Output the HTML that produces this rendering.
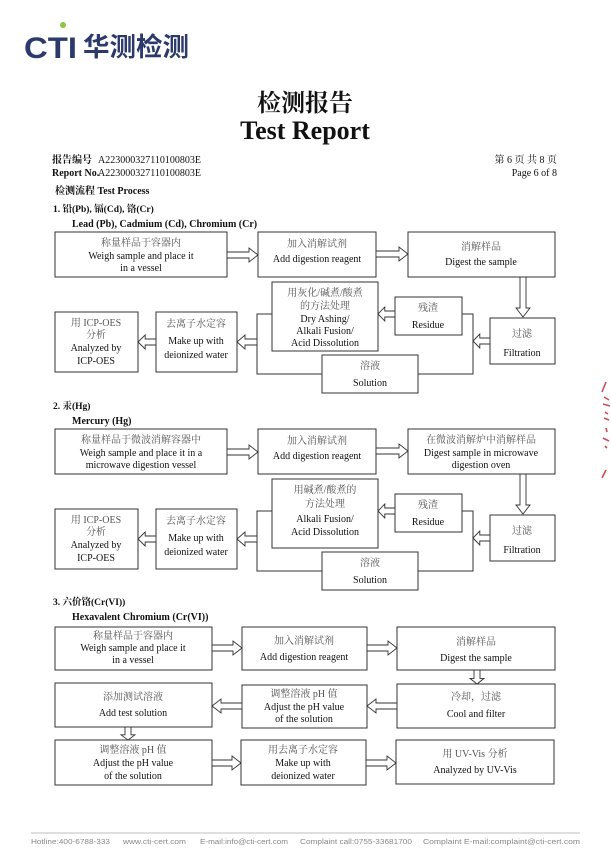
<!DOCTYPE html>
<html><head><meta charset="utf-8"><style>
html,body{margin:0;padding:0;background:#fff;}
svg{display:block;}
.s{font-family:"Liberation Serif","Noto Serif CJK SC",serif;fill:#111;}
.c{font-family:"Liberation Serif","Noto Serif CJK SC",serif;fill:#555;font-size:10px;}
.e{font-family:"Liberation Serif",serif;fill:#111;font-size:10px;}
.b{fill:#fff;stroke:#333;stroke-width:1;}
.a{fill:#fff;stroke:#333;stroke-width:0.9;}
.l{fill:none;stroke:#333;stroke-width:1;}
.f{font-family:"Liberation Sans",sans-serif;font-size:7.6px;fill:#888;}
</style></head><body>
<svg id="pg" width="611" height="864" viewBox="0 0 611 864" xmlns="http://www.w3.org/2000/svg">
<!-- logo -->
<text x="24" y="58" font-family="Liberation Sans,sans-serif" font-weight="bold" font-size="30" fill="#2b3a6b" textLength="53" lengthAdjust="spacingAndGlyphs">CTI</text>
<circle cx="63" cy="25" r="3" fill="#8cc63f"/>
<text x="83" y="56" font-family="Noto Sans CJK SC,sans-serif" font-weight="bold" font-size="26" fill="#2b3a6b" textLength="106" lengthAdjust="spacingAndGlyphs">华测检测</text>
<!-- title -->
<text x="305" y="111" text-anchor="middle" font-family="Noto Serif CJK SC,serif" font-weight="bold" font-size="24" fill="#111">检测报告</text>
<text x="305" y="139" text-anchor="middle" class="s" font-weight="bold" font-size="26">Test Report</text>
<text x="52" y="163" class="s" font-weight="bold" font-size="10">报告编号</text>
<text x="98" y="163" class="s" font-size="10">A223000327110100803E</text>
<text x="52" y="176" class="s" font-weight="bold" font-size="10">Report No.</text>
<text x="98" y="176" class="s" font-size="10">A223000327110100803E</text>
<text x="557" y="163" text-anchor="end" class="s" font-size="10" fill="#444">第 6 页  共 8 页</text>
<text x="557" y="176" text-anchor="end" class="s" font-size="10">Page 6 of 8</text>
<text x="55" y="194" class="s" font-weight="bold" font-size="10">检测流程 Test Process</text>
<text x="53" y="212" class="s" font-weight="bold" font-size="9.5">1.   铅(Pb), 镉(Cd), 铬(Cr)</text>
<text x="72" y="227" class="s" font-weight="bold" font-size="10">Lead (Pb), Cadmium (Cd), Chromium (Cr)</text>
<text x="53" y="409" class="s" font-weight="bold" font-size="9.5">2.   汞(Hg)</text>
<text x="72" y="424" class="s" font-weight="bold" font-size="10">Mercury (Hg)</text>
<text x="53" y="605" class="s" font-weight="bold" font-size="9.5">3.   六价铬(Cr(VI))</text>
<text x="72" y="620" class="s" font-weight="bold" font-size="10">Hexavalent Chromium (Cr(VI))</text>

<!-- Section 1 -->
<g>
<rect class="b" x="55" y="232" width="172" height="45"/>
<text x="141" y="246" text-anchor="middle" class="c">称量样品于容器内</text>
<text x="141" y="259" text-anchor="middle" class="e">Weigh sample and place it</text>
<text x="141" y="271" text-anchor="middle" class="e">in a vessel</text>
<rect class="b" x="258" y="232" width="118" height="45"/>
<text x="317" y="247" text-anchor="middle" class="c">加入消解试剂</text>
<text x="317" y="262" text-anchor="middle" class="e">Add digestion reagent</text>
<rect class="b" x="408" y="232" width="147" height="45"/>
<text x="481" y="250" text-anchor="middle" class="c">消解样品</text>
<text x="481" y="265" text-anchor="middle" class="e">Digest the sample</text>
<rect class="b" x="490" y="318" width="65" height="46"/>
<text x="522" y="337" text-anchor="middle" class="c">过滤</text>
<text x="522" y="356" text-anchor="middle" class="e">Filtration</text>
<rect class="b" x="395" y="297" width="67" height="38"/>
<text x="428" y="311" text-anchor="middle" class="c">残渣</text>
<text x="428" y="328" text-anchor="middle" class="e">Residue</text>
<rect class="b" x="272" y="282" width="106" height="69"/>
<text x="325" y="296" text-anchor="middle" class="c">用灰化/碱煮/酸煮</text>
<text x="325" y="309" text-anchor="middle" class="c">的方法处理</text>
<text x="325" y="322" text-anchor="middle" class="e">Dry Ashing/</text>
<text x="325" y="334" text-anchor="middle" class="e">Alkali Fusion/</text>
<text x="325" y="346" text-anchor="middle" class="e">Acid Dissolution</text>
<rect class="b" x="322" y="355" width="96" height="38"/>
<text x="370" y="369" text-anchor="middle" class="c">溶液</text>
<text x="370" y="386" text-anchor="middle" class="e">Solution</text>
<rect class="b" x="156" y="312" width="81" height="60"/>
<text x="196" y="327" text-anchor="middle" class="c">去离子水定容</text>
<text x="196" y="344" text-anchor="middle" class="e">Make up with</text>
<text x="196" y="358" text-anchor="middle" class="e">deionized water</text>
<rect class="b" x="55" y="312" width="83" height="60"/>
<text x="96" y="326" text-anchor="middle" class="c">用 ICP-OES</text>
<text x="96" y="338" text-anchor="middle" class="c">分析</text>
<text x="96" y="351" text-anchor="middle" class="e">Analyzed by</text>
<text x="96" y="364" text-anchor="middle" class="e">ICP-OES</text>
<polyline class="l" points="462,314 473,314 473,374 418,374"/>
<polyline class="l" points="322,374 257,374 257,314 272,314"/>
</g>

<!-- Section 2 -->
<g>
<rect class="b" x="55" y="429" width="172" height="45"/>
<text x="141" y="443" text-anchor="middle" class="c">称量样品于微波消解容器中</text>
<text x="141" y="456" text-anchor="middle" class="e">Weigh sample and place it in a</text>
<text x="141" y="468" text-anchor="middle" class="e">microwave digestion vessel</text>
<rect class="b" x="258" y="429" width="118" height="45"/>
<text x="317" y="444" text-anchor="middle" class="c">加入消解试剂</text>
<text x="317" y="459" text-anchor="middle" class="e">Add digestion reagent</text>
<rect class="b" x="408" y="429" width="147" height="45"/>
<text x="481" y="443" text-anchor="middle" class="c">在微波消解炉中消解样品</text>
<text x="481" y="456" text-anchor="middle" class="e">Digest sample in microwave</text>
<text x="481" y="468" text-anchor="middle" class="e">digestion oven</text>
<rect class="b" x="490" y="515" width="65" height="46"/>
<text x="522" y="534" text-anchor="middle" class="c">过滤</text>
<text x="522" y="553" text-anchor="middle" class="e">Filtration</text>
<rect class="b" x="395" y="494" width="67" height="38"/>
<text x="428" y="508" text-anchor="middle" class="c">残渣</text>
<text x="428" y="525" text-anchor="middle" class="e">Residue</text>
<rect class="b" x="272" y="479" width="106" height="69"/>
<text x="325" y="493" text-anchor="middle" class="c">用碱煮/酸煮的</text>
<text x="325" y="507" text-anchor="middle" class="c">方法处理</text>
<text x="325" y="522" text-anchor="middle" class="e">Alkali Fusion/</text>
<text x="325" y="535" text-anchor="middle" class="e">Acid Dissolution</text>
<rect class="b" x="322" y="552" width="96" height="38"/>
<text x="370" y="566" text-anchor="middle" class="c">溶液</text>
<text x="370" y="583" text-anchor="middle" class="e">Solution</text>
<rect class="b" x="156" y="509" width="81" height="60"/>
<text x="196" y="524" text-anchor="middle" class="c">去离子水定容</text>
<text x="196" y="541" text-anchor="middle" class="e">Make up with</text>
<text x="196" y="555" text-anchor="middle" class="e">deionized water</text>
<rect class="b" x="55" y="509" width="83" height="60"/>
<text x="96" y="523" text-anchor="middle" class="c">用 ICP-OES</text>
<text x="96" y="535" text-anchor="middle" class="c">分析</text>
<text x="96" y="548" text-anchor="middle" class="e">Analyzed by</text>
<text x="96" y="561" text-anchor="middle" class="e">ICP-OES</text>
<polyline class="l" points="462,511 473,511 473,571 418,571"/>
<polyline class="l" points="322,571 257,571 257,511 272,511"/>
</g>

<!-- Section 3 -->
<g>
<rect class="b" x="55" y="627" width="157" height="43"/>
<text x="133" y="639" text-anchor="middle" class="c">称量样品于容器内</text>
<text x="133" y="651" text-anchor="middle" class="e">Weigh sample and place it</text>
<text x="133" y="663" text-anchor="middle" class="e">in a vessel</text>
<rect class="b" x="242" y="627" width="125" height="43"/>
<text x="304" y="644" text-anchor="middle" class="c">加入消解试剂</text>
<text x="304" y="660" text-anchor="middle" class="e">Add digestion reagent</text>
<rect class="b" x="397" y="627" width="158" height="43"/>
<text x="476" y="645" text-anchor="middle" class="c">消解样品</text>
<text x="476" y="661" text-anchor="middle" class="e">Digest the sample</text>
<rect class="b" x="55" y="683" width="157" height="44"/>
<text x="133" y="700" text-anchor="middle" class="c">添加测试溶液</text>
<text x="133" y="716" text-anchor="middle" class="e">Add test solution</text>
<rect class="b" x="242" y="685" width="125" height="43"/>
<text x="304" y="697" text-anchor="middle" class="c">调整溶液 pH 值</text>
<text x="304" y="710" text-anchor="middle" class="e">Adjust the pH value</text>
<text x="304" y="722" text-anchor="middle" class="e">of the solution</text>
<rect class="b" x="397" y="684" width="158" height="44"/>
<text x="476" y="700" text-anchor="middle" class="c">冷却，过滤</text>
<text x="476" y="717" text-anchor="middle" class="e">Cool and filter</text>
<rect class="b" x="55" y="740" width="157" height="45"/>
<text x="133" y="753" text-anchor="middle" class="c">调整溶液 pH 值</text>
<text x="133" y="766" text-anchor="middle" class="e">Adjust the pH value</text>
<text x="133" y="779" text-anchor="middle" class="e">of the solution</text>
<rect class="b" x="241" y="740" width="125" height="45"/>
<text x="303" y="753" text-anchor="middle" class="c">用去离子水定容</text>
<text x="303" y="766" text-anchor="middle" class="e">Make up with</text>
<text x="303" y="779" text-anchor="middle" class="e">deionized water</text>
<rect class="b" x="396" y="740" width="158" height="44"/>
<text x="475" y="757" text-anchor="middle" class="c">用 UV-Vis 分析</text>
<text x="475" y="773" text-anchor="middle" class="e">Analyzed by UV-Vis</text>
</g>

<!-- arrows -->
<g id="arr"></g>

<!-- red stamp fragment -->
<g stroke="#c0303a" stroke-width="1.6" fill="none" opacity="0.85">
<path d="M606,382 L602,392"/><path d="M604,397 L609,400 M603,404 L610,406"/>
<path d="M605,412 L608,414 M604,418 L609,420"/><path d="M606,428 L607,432"/>
<path d="M603,438 L609,441 M605,446 L607,448"/><path d="M606,470 L602,478"/>
</g>

<!-- footer -->
<line x1="31" y1="833" x2="580" y2="833" stroke="#aaa" stroke-width="0.8"/>
<text x="31" y="844" class="f" textLength="79" lengthAdjust="spacingAndGlyphs">Hotline:400-6788-333</text>
<text x="123" y="844" class="f" textLength="63" lengthAdjust="spacingAndGlyphs">www.cti-cert.com</text>
<text x="200" y="844" class="f" textLength="88" lengthAdjust="spacingAndGlyphs">E-mail:info@cti-cert.com</text>
<text x="300" y="844" class="f" textLength="112" lengthAdjust="spacingAndGlyphs">Complaint call:0755-33681700</text>
<text x="423" y="844" class="f" textLength="157" lengthAdjust="spacingAndGlyphs">Complaint E-mail:complaint@cti-cert.com</text>
</svg>
<script>
var g=document.getElementById('arr'),ns='http://www.w3.org/2000/svg';
function H(x1,x2,y){var d=x2>x1?1:-1,h=Math.min(9,Math.abs(x2-x1)*0.4),b=x2-d*h;
 add([[x1,y-3],[b,y-3],[b,y-7],[x2,y],[b,y+7],[b,y+3],[x1,y+3]]);}
function V(x,y1,y2){var d=y2>y1?1:-1,h=Math.min(9,Math.abs(y2-y1)*0.4),b=y2-d*h;
 add([[x-3,y1],[x-3,b],[x-7,b],[x,y2],[x+7,b],[x+3,b],[x+3,y1]]);}
function add(p){var e=document.createElementNS(ns,'polygon');e.setAttribute('class','a');
 e.setAttribute('points',p.map(function(q){return q.join(',')}).join(' '));g.appendChild(e);}
[0,197].forEach(function(o){
 H(227,258,255+o);H(376,408,254+o);V(523,277+o,317+o);
 H(490,473,341+o);H(395,378,314+o);H(257,237,342+o);H(156,138,342+o);
});
H(212,242,648);H(367,397,648);V(477,670,684);
H(397,367,706);H(242,212,706);V(128,727,740);
H(212,241,763);H(366,396,763);
</script>
</body></html>
